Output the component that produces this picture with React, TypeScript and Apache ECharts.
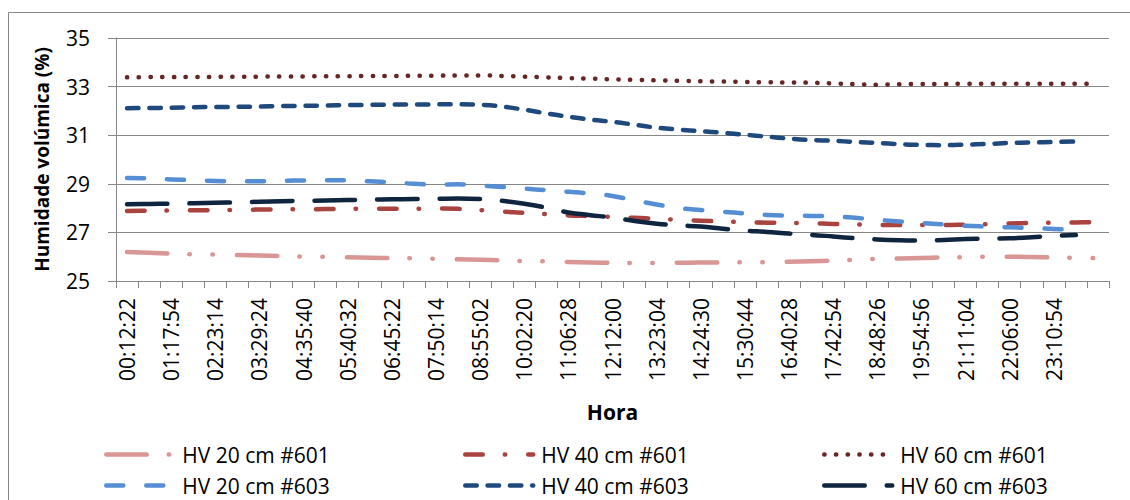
import React, { useEffect, useRef } from "react";
import * as echarts from "echarts";

// 45 time categories (labels shown on every second one, up to 23:10:54)
const categories = [
  "00:12:22", "00:45:08", "01:17:54", "01:50:34", "02:23:14", "02:56:19", "03:29:24", "04:02:32",
  "04:35:40", "05:08:06", "05:40:32", "06:12:57", "06:45:22", "07:17:48", "07:50:14", "08:22:38",
  "08:55:02", "09:28:41", "10:02:20", "10:34:24", "11:06:28", "11:39:14", "12:12:00", "12:47:32",
  "13:23:04", "13:53:47", "14:24:30", "14:57:37", "15:30:44", "16:05:36", "16:40:28", "17:11:41",
  "17:42:54", "18:15:40", "18:48:26", "19:21:41", "19:54:56", "20:33:00", "21:11:04", "21:38:32",
  "22:06:00", "22:38:27", "23:10:54", "23:43:21", "00:15:48",
];
const lastLabelledIndex = 42;

const yTicks = { min: 25, max: 35, interval: 2 };

const hv20_601 = [
  26.19, 26.16, 26.13, 26.1, 26.09, 26.07, 26.05, 26.03, 26.01, 26.0,
  25.98, 25.96, 25.94, 25.93, 25.91, 25.89, 25.87, 25.85, 25.82, 25.81,
  25.78, 25.76, 25.75, 25.74, 25.74, 25.75, 25.76, 25.76, 25.77, 25.77,
  25.79, 25.81, 25.84, 25.87, 25.91, 25.93, 25.95, 25.97, 25.98, 26.0,
  26.0, 25.99, 25.97, 25.95, 25.94,
];
const hv40_601 = [
  27.88, 27.89, 27.9, 27.91, 27.92, 27.93, 27.94, 27.95, 27.95, 27.96,
  27.97, 27.97, 27.97, 27.97, 27.98, 27.97, 27.92, 27.86, 27.8, 27.75,
  27.7, 27.67, 27.64, 27.6, 27.56, 27.52, 27.48, 27.45, 27.42, 27.4,
  27.39, 27.38, 27.35, 27.33, 27.31, 27.3, 27.3, 27.3, 27.32, 27.34,
  27.37, 27.39, 27.4, 27.41, 27.43,
];
const hv60_601 = [
  33.38, 33.39, 33.39, 33.4, 33.4, 33.41, 33.41, 33.42, 33.42, 33.43,
  33.43, 33.44, 33.44, 33.45, 33.45, 33.46, 33.46, 33.44, 33.41, 33.38,
  33.35, 33.33, 33.3, 33.28, 33.26, 33.24, 33.22, 33.21, 33.19, 33.18,
  33.17, 33.16, 33.13, 33.1, 33.08, 33.1, 33.11, 33.11, 33.12, 33.12,
  33.12, 33.12, 33.12, 33.12, 33.12,
];
const hv20_603 = [
  29.24, 29.22, 29.18, 29.15, 29.12, 29.1, 29.1, 29.12, 29.14, 29.15,
  29.14, 29.1, 29.06, 29.0, 28.97, 28.98, 28.93, 28.87, 28.8, 28.74,
  28.67, 28.6, 28.5, 28.32, 28.15, 28.0, 27.92, 27.85, 27.78, 27.72,
  27.69, 27.68, 27.66, 27.6, 27.52, 27.45, 27.39, 27.33, 27.27, 27.24,
  27.21, 27.18, 27.14, 27.1, null,
];
const hv40_603 = [
  32.11, 32.12, 32.13, 32.15, 32.16, 32.17, 32.18, 32.2, 32.21, 32.22,
  32.24, 32.25, 32.26, 32.26, 32.27, 32.27, 32.25, 32.18, 32.05, 31.9,
  31.76, 31.64, 31.55, 31.43, 31.31, 31.23, 31.16, 31.1, 31.02, 30.94,
  30.86, 30.8, 30.77, 30.72, 30.68, 30.63, 30.6, 30.59, 30.61, 30.64,
  30.68, 30.7, 30.72, 30.74, null,
];
const hv60_603 = [
  28.16, 28.17, 28.18, 28.2, 28.22, 28.24, 28.26, 28.28, 28.3, 28.31,
  28.33, 28.35, 28.36, 28.37, 28.38, 28.39, 28.37, 28.3, 28.18, 28.02,
  27.82, 27.71, 27.61, 27.47, 27.36, 27.29, 27.24, 27.15, 27.07, 27.02,
  26.95, 26.9, 26.83, 26.76, 26.71, 26.68, 26.67, 26.69, 26.73, 26.75,
  26.76, 26.8, 26.86, 26.89, null,
];

const seriesNames = [
  "HV 20 cm #601", "HV 40 cm #601", "HV 60 cm #601",
  "HV 20 cm #603", "HV 40 cm #603", "HV 60 cm #603",
];
const seriesData = [hv20_601, hv40_601, hv60_601, hv20_603, hv40_603, hv60_603];

const styles = [
  { color: "#D99694", width: 4.5, dash: [40.5, 22, 0.5, 22.5, 0.5, 24] },
  { color: "#A9433F", width: 4.5, dash: [17.5, 22, 0.5, 23] },
  { color: "#672626", width: 4.5, dash: [0.3, 11.4] },
  { color: "#558ED5", width: 4.5, dash: [17, 23] },
  { color: "#1F497D", width: 4.5, dash: [11.5, 10.8] },
  { color: "#0F243E", width: 4.5, dash: [40.5, 22] },
];

const legendPos = [
  { left: 104, top: 444 }, { left: 463, top: 444 }, { left: 822, top: 444 },
  { left: 104, top: 475 }, { left: 463, top: 475 }, { left: 822, top: 475 },
];

const FONT = "'Open Sans', 'Noto Sans', sans-serif";

export default function App() {
  const ref = useRef<HTMLDivElement>(null);
  useEffect(() => {
    if (!ref.current) return;
    const chart = echarts.init(ref.current, null, { renderer: "svg" });
    const option: any = {
      animation: false,
      backgroundColor: "#ffffff",
      textStyle: { fontFamily: FONT },
      graphic: [
        {
          type: "rect",
          shape: { x: 8.5, y: 12.5, width: 1200, height: 600 },
          style: { fill: "none", stroke: "#868686", lineWidth: 1 },
          silent: true,
        },
      ],
      grid: { left: 116, right: 21, top: 38, bottom: 219, containLabel: false },
      legend: seriesNames.map((n, i) => ({
        data: [n],
        left: legendPos[i].left,
        top: legendPos[i].top,
        padding: 0,
        itemWidth: 68,
        itemHeight: 14,
        itemStyle: { opacity: 0 },
        lineStyle: {
          color: styles[i].color,
          width: styles[i].width,
          type: styles[i].dash,
          cap: "round",
          opacity: 1,
        },
        textStyle: { fontSize: 21, color: "#000", fontFamily: FONT, padding: [0, 0, 0, 3] },
        selectedMode: false,
      })),
      xAxis: {
        type: "category",
        data: categories,
        boundaryGap: true,
        name: "Hora",
        nameLocation: "middle",
        nameGap: 120,
        nameTextStyle: { fontSize: 21, fontWeight: "bold", color: "#000", fontFamily: FONT },
        axisLine: { lineStyle: { color: "#868686", width: 1 } },
        axisTick: { show: true, interval: 0, length: 7, lineStyle: { color: "#868686" } },
        axisLabel: {
          rotate: 90,
          interval: (index: number) => index % 2 === 0 && index <= lastLabelledIndex,
          fontSize: 21,
          color: "#000",
          margin: 17,
          fontFamily: FONT,
        },
        splitLine: { show: false },
      },
      yAxis: {
        type: "value",
        min: yTicks.min,
        max: yTicks.max,
        interval: yTicks.interval,
        name: "Humidade volúmica (%)",
        nameLocation: "middle",
        nameRotate: 90,
        nameGap: 65,
        nameTextStyle: { fontSize: 19, fontWeight: "bold", color: "#000", fontFamily: FONT },
        axisLine: { show: true, lineStyle: { color: "#868686", width: 1 } },
        axisTick: { show: true, length: 8, lineStyle: { color: "#868686" } },
        axisLabel: { fontSize: 21, color: "#000", margin: 26, fontFamily: FONT },
        splitLine: { show: true, lineStyle: { color: "#868686", width: 1 } },
      },
      series: seriesNames.map((n, i) => ({
        name: n,
        type: "line",
        data: seriesData[i],
        symbol: "none",
        showSymbol: false,
        smooth: 0.4,
        connectNulls: false,
        lineStyle: {
          color: styles[i].color,
          width: styles[i].width,
          type: styles[i].dash,
          cap: "round",
          join: "round",
        },
        itemStyle: { color: styles[i].color },
      })),
    };
    chart.setOption(option);
    return () => chart.dispose();
  }, []);
  return (
    <div
      ref={ref}
      style={{ position: "fixed", left: 0, top: 0, width: 1130, height: 500 }}
    />
  );
}
